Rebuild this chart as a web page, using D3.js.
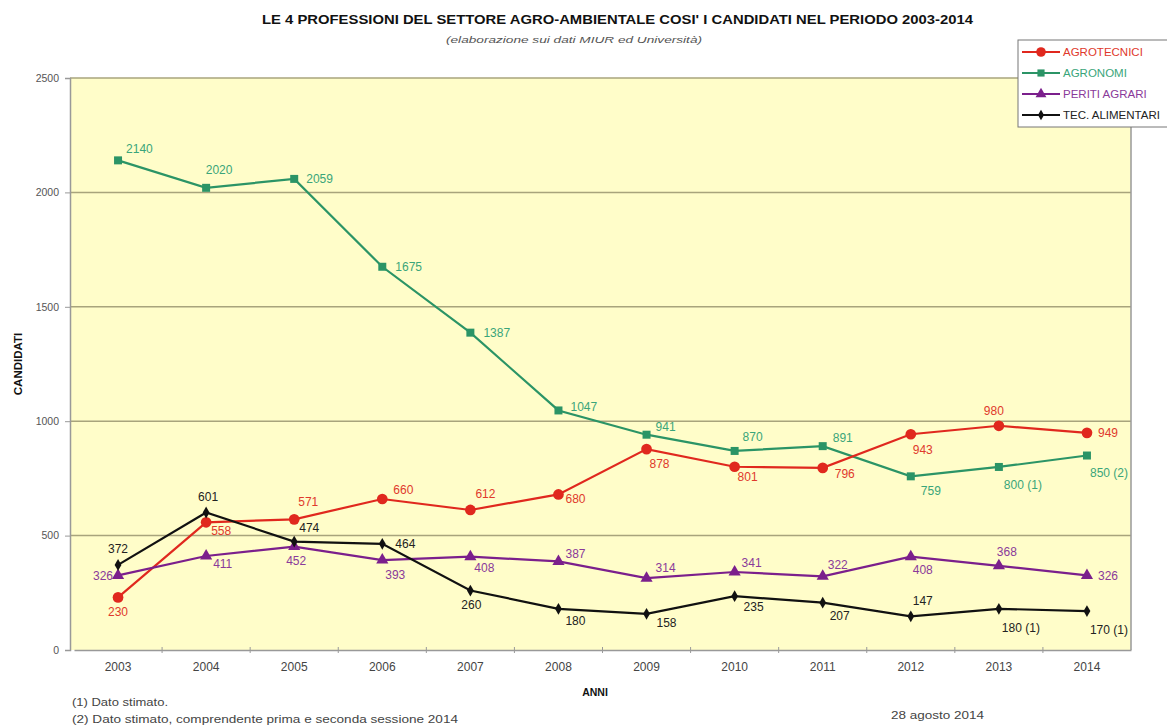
<!DOCTYPE html>
<html>
<head>
<meta charset="utf-8">
<script src="https://cdn.jsdelivr.net/npm/d3@7"></script>
<style>
  body { margin: 0; background: #fff; overflow: hidden; }
  svg text { font-family: "Liberation Sans", Arial, sans-serif; }
</style>
</head>
<body>
<div id="chart"></div>
<script>
// Data
const years = ['2003', '2004', '2005', '2006', '2007', '2008', '2009', '2010', '2011', '2012', '2013', '2014'];
const agrotecnici = [230, 558, 571, 660, 612, 680, 878, 801, 796, 943, 980, 949];
const agronomi = [2140, 2020, 2059, 1675, 1387, 1047, 941, 870, 891, 759, 800, 850];
const peritiAgrari = [326, 411, 452, 393, 408, 387, 314, 341, 322, 408, 368, 326];
const tecAlimentari = [372, 601, 474, 464, 260, 180, 158, 235, 207, 147, 180, 170];
const agronomiNotes = ['', '', '', '', '', '', '', '', '', '', ' (1)', ' (2)'];
const tecNotes = ['', '', '', '', '', '', '', '', '', '', ' (1)', ' (1)'];
const yTicks = [0, 500, 1000, 1500, 2000, 2500];

// label placement per point: [dx, dy, anchor]
const S = 'start', M = 'middle', E = 'end';
const series = [
    { name: 'AGRONOMI', values: agronomi, notes: agronomiNotes, color: '#2b9466', text: '#3aa57a', symbol: d3.symbolSquare, size: 64,
      place: [[8,-12,S],[13,-18,M],[12,0,S],[13,0,S],[13,0,S],[12,-4,S],[9,-8,S],[18,-14,M],[10,-8,S],[10,14,S],[24,18,M],[3,17,S]] },
    { name: 'AGROTECNICI', values: agrotecnici, notes: null, color: '#e0281e', text: '#e0392c', symbol: d3.symbolCircle, size: 90,
      place: [[0,14,M],[5,8,S],[4,-18,S],[11,-9,S],[5,-16,S],[7,4,S],[13,15,M],[13,10,M],[12,6,S],[12,16,M],[-5,-15,M],[11,0,S]] },
    { name: 'PERITI AGRARI', values: peritiAgrari, notes: null, color: '#7b1f8c', text: '#8a3a9a', symbol: d3.symbolTriangle, size: 64,
      place: [[-5,0,E],[7,8,S],[2,14,M],[13,15,M],[14,11,M],[7,-8,S],[9,-10,S],[17,-9,M],[5,-12,S],[12,13,M],[8,-14,M],[11,0,S]] },
    { name: 'TEC. ALIMENTARI', values: tecAlimentari, notes: tecNotes, color: '#111', text: '#222', symbol: d3.symbolDiamond, size: 40,
      place: [[0,-16,M],[2,-16,M],[5,-14,S],[13,0,S],[1,14,M],[17,12,M],[20,9,M],[19,11,M],[17,13,M],[12,-16,M],[22,19,M],[22,19,M]] }
];
const legendOrder = [1, 0, 2, 3];

const width = 1167, height = 728;
const margin = { top: 78, right: 36, bottom: 78, left: 70 };
const innerW = width - margin.left - margin.right;
const innerH = height - margin.top - margin.bottom;

const svg = d3.select('#chart')
    .append('svg')
    .attr('width', width)
    .attr('height', height);

const g = svg.append('g')
    .attr('transform', `translate(${margin.left},${margin.top})`);

// Scales
const x = d3.scaleBand()
    .domain(years)
    .range([4, innerW]);

const y = d3.scaleLinear()
    .domain([0, 2500])
    .range([innerH, 0]);

// Plot background
g.append('rect')
    .attr('width', innerW)
    .attr('height', innerH)
    .style('fill', '#fffdc9');

// Gridlines
g.selectAll('.grid')
    .data(yTicks.filter(d => d > 0))
    .enter()
    .append('line')
    .attr('x1', 0)
    .attr('x2', innerW)
    .attr('y1', d => y(d))
    .attr('y2', d => y(d))
    .style('stroke', '#a8a47c')
    .style('stroke-width', 1.5);

// Right border
g.append('line')
    .attr('x1', innerW).attr('x2', innerW)
    .attr('y1', 0).attr('y2', innerH)
    .style('stroke', '#999')
    .style('stroke-width', 1.5);

// Y axis
const yAxis = g.append('g')
    .call(d3.axisLeft(y).tickValues(yTicks).tickFormat(d3.format('d')).tickSize(5).tickPadding(6));
yAxis.select('.domain').style('stroke', '#999').style('stroke-width', 1.5);
yAxis.selectAll('line').style('stroke', '#999');
yAxis.selectAll('text')
    .style('fill', '#555')
    .style('font-size', '10.5px');

// X axis with ticks at category boundaries
const xAxis = g.append('g')
    .attr('transform', `translate(0,${innerH})`)
    .call(d3.axisBottom(x).tickSize(0).tickPadding(12));
xAxis.select('.domain').style('stroke', '#999').style('stroke-width', 1.5);
xAxis.selectAll('text')
    .style('fill', '#444')
    .style('font-size', '12px');
g.selectAll('.xtick')
    .data(years.slice(1))
    .enter()
    .append('line')
    .attr('x1', d => x(d))
    .attr('x2', d => x(d))
    .attr('y1', innerH - 3)
    .attr('y2', innerH + 3)
    .style('stroke', '#999');

const cx = d => x(d) + x.bandwidth() / 2;

// Series lines, markers
series.forEach(s => {
    const pts = years.map((yr, i) => ({ yr, v: s.values[i], i }));

    const line = d3.line()
        .x(d => cx(d.yr))
        .y(d => y(d.v));

    g.append('path')
        .datum(pts)
        .attr('fill', 'none')
        .attr('stroke', s.color)
        .attr('stroke-width', 2.2)
        .attr('d', line);

    g.selectAll(null)
        .data(pts)
        .enter()
        .append('path')
        .attr('transform', d => `translate(${cx(d.yr)},${y(d.v)})`)
        .attr('d', d3.symbol().type(s.symbol).size(s.size))
        .style('fill', s.color);
});

// Value labels
series.forEach(s => {
    const pts = years.map((yr, i) => ({ yr, v: s.values[i], i }));
    g.selectAll(null)
        .data(pts)
        .enter()
        .append('text')
        .attr('x', d => cx(d.yr) + s.place[d.i][0])
        .attr('y', d => y(d.v) + s.place[d.i][1])
        .attr('dy', '0.35em')
        .attr('text-anchor', d => s.place[d.i][2])
        .text(d => d.v + (s.notes ? s.notes[d.i] : ''))
        .style('fill', s.text)
        .style('font-size', '12px');
});

// helper for stretched text (the source is wider than the font)
function addText(txt, x0, y0, len, size, opts = {}) {
    return svg.append('text')
        .attr('x', x0)
        .attr('y', y0)
        .attr('textLength', len)
        .attr('lengthAdjust', 'spacingAndGlyphs')
        .text(txt)
        .style('font-size', size + 'px')
        .style('font-weight', opts.bold ? 'bold' : 'normal')
        .style('font-style', opts.italic ? 'italic' : 'normal')
        .style('fill', opts.fill || '#444');
}

// Title
addText("LE 4  PROFESSIONI DEL SETTORE AGRO-AMBIENTALE COSI' I CANDIDATI NEL PERIODO 2003-2014", 262, 24, 711, 12, { bold: true, fill: '#111' });
addText('(elaborazione sui dati MIUR ed Università)', 446, 43, 256, 9.5, { italic: true, fill: '#555' });

// Axis titles
svg.append('text')
    .attr('transform', 'translate(22,364) rotate(-90)')
    .attr('text-anchor', 'middle')
    .text('CANDIDATI')
    .style('font-size', '11.5px')
    .style('font-weight', 'bold')
    .style('fill', '#111');

svg.append('text')
    .attr('x', 595)
    .attr('y', 696)
    .attr('text-anchor', 'middle')
    .text('ANNI')
    .style('font-size', '10.5px')
    .style('font-weight', 'bold')
    .style('fill', '#111');

// Footnotes
addText('(1) Dato stimato.', 72, 706, 96, 10.5);
addText('(2) Dato stimato, comprendente prima e seconda sessione 2014', 72, 723, 386, 10.5);
addText('28 agosto 2014', 891, 719, 93, 10.5);

// Legend
const legend = svg.append('g')
    .attr('transform', 'translate(1018,40)');
legend.append('rect')
    .attr('width', 170)
    .attr('height', 87)
    .style('fill', '#fff')
    .style('stroke', '#777')
    .style('stroke-width', 1);

legendOrder.forEach((si, k) => {
    const s = series[si];
    const ly = 12 + k * 21;
    legend.append('line')
        .attr('x1', 4).attr('x2', 42)
        .attr('y1', ly).attr('y2', ly)
        .style('stroke', s.color)
        .style('stroke-width', 2);
    legend.append('path')
        .attr('transform', `translate(23,${ly})`)
        .attr('d', d3.symbol().type(s.symbol).size(s.size * 0.8))
        .style('fill', s.color);
    legend.append('text')
        .attr('x', 45)
        .attr('y', ly)
        .attr('dy', '0.35em')
        .text(s.name)
        .style('fill', s.text)
        .style('font-size', '11.5px');
});
</script>
</body>
</html>
